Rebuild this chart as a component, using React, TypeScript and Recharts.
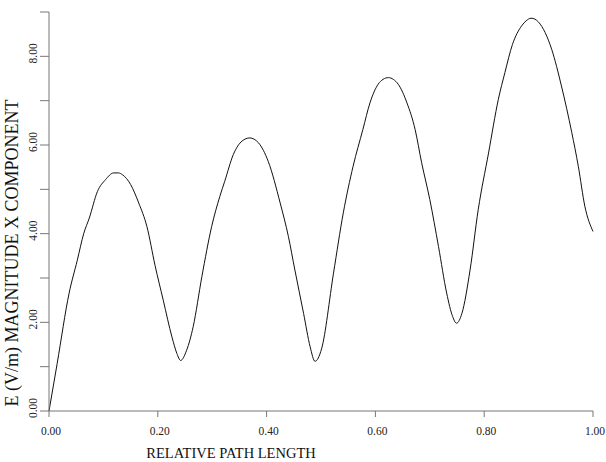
import { LineChart, Line, XAxis, YAxis } from 'recharts';

// relative path length samples and E field x component (V/m)
const pathLength = [
    0.000, 0.015, 0.037, 0.052, 0.064, 0.074, 0.089, 0.104, 0.119, 0.128,
    0.135, 0.150, 0.165, 0.180, 0.195, 0.210, 0.226, 0.235, 0.242, 0.253,
    0.265, 0.281, 0.299, 0.314, 0.323, 0.339, 0.355, 0.369, 0.385, 0.403,
    0.425, 0.440, 0.452, 0.468, 0.480, 0.489, 0.501, 0.523, 0.541, 0.559,
    0.577, 0.590, 0.605, 0.614, 0.624, 0.633, 0.642, 0.658, 0.673, 0.685,
    0.700, 0.716, 0.731, 0.742, 0.749, 0.759, 0.774, 0.789, 0.808, 0.826,
    0.838, 0.852, 0.869, 0.877, 0.886, 0.893, 0.900, 0.924, 0.942, 0.961,
    0.973, 0.985, 1.000,
];
const eMagnitude = [
    0.00, 1.07, 2.66, 3.40, 4.01, 4.35, 4.95, 5.22, 5.37, 5.37,
    5.33, 5.11, 4.69, 4.16, 3.28, 2.50, 1.67, 1.30, 1.14, 1.37,
    1.90, 3.03, 4.16, 4.84, 5.18, 5.79, 6.09, 6.16, 6.05, 5.63,
    4.69, 3.94, 3.18, 2.20, 1.45, 1.12, 1.40, 3.11, 4.47, 5.52,
    6.35, 6.95, 7.37, 7.48, 7.52, 7.48, 7.37, 6.95, 6.35, 5.60,
    4.77, 3.71, 2.66, 2.13, 1.98, 2.20, 3.18, 4.54, 5.82, 7.03,
    7.63, 8.27, 8.69, 8.80, 8.86, 8.84, 8.77, 8.16, 7.33, 6.28,
    5.52, 4.62, 4.05,
];

const xTicks = [0, 0.2, 0.4, 0.6, 0.8, 1.0];
const yTicks = [0, 1, 2, 3, 4, 5, 6, 7, 8, 9];

const serif = '"Liberation Serif", "Times New Roman", serif';

const data = pathLength.map((x, i) => ({ x, e: eMagnitude[i] }));

function XTick({ x, y, payload }: any) {
    return (
        <text x={x + 2} y={y + 16} textAnchor="middle" fontFamily={serif} fontSize={11.5} fill="#222">
            {payload.value.toFixed(2)}
        </text>
    );
}

function YTick({ y, payload }: any) {
    // only even values get a label, odd ones are bare tick marks
    if (payload.value % 2 !== 0) return <g />;
    const tx = 37;
    const ty = y - 3;
    return (
        <text x={tx} y={ty} transform={`rotate(-90, ${tx}, ${ty})`} textAnchor="middle"
            fontFamily={serif} fontSize={11.5} fill="#222">
            {payload.value.toFixed(2)}
        </text>
    );
}

function XTitle() {
    return (
        <text x={231} y={458} textAnchor="middle" fontFamily={serif} fontSize={14.5} fill="#111">
            RELATIVE PATH LENGTH
        </text>
    );
}

function YTitle() {
    return (
        <text x={18} y={253} transform="rotate(-90, 18, 253)" textAnchor="middle"
            fontFamily={serif} fontSize={18} fill="#111">
            E (V/m) MAGNITUDE X COMPONENT
        </text>
    );
}

export default function App() {
    return (
        <div style={{ position: 'absolute', left: 0, top: 0, width: 606, height: 462, background: '#fff' }}>
            <LineChart width={606} height={462} data={data}
                margin={{ top: 12, right: 13, left: 0, bottom: 0 }}>
                <XAxis dataKey="x" type="number" domain={[0, 1]} ticks={xTicks} interval={0}
                    height={51} tickSize={6} stroke="#777" tick={<XTick />} label={<XTitle />} />
                <YAxis type="number" domain={[0, 9]} ticks={yTicks} interval={0}
                    width={49} tickSize={9} stroke="#777" tick={<YTick />} label={<YTitle />} />
                <Line dataKey="e" type="monotone" stroke="#111" strokeWidth={1}
                    dot={false} activeDot={false} isAnimationActive={false} />
            </LineChart>
        </div>
    );
}
